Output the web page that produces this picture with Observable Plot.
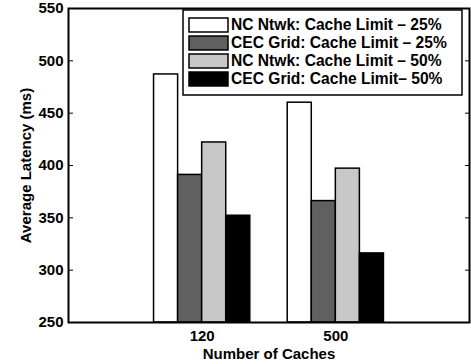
<!DOCTYPE html>
<html><head><meta charset="utf-8">
<script src="https://cdn.jsdelivr.net/npm/d3@7"></script>
<script src="https://cdn.jsdelivr.net/npm/@observablehq/plot@0.6"></script>
<style>
body{margin:0;background:#fff}
#chart svg{font-family:"Liberation Sans",Arial,sans-serif;font-weight:bold}
</style>
</head><body><div id="chart"></div>
<script>
const categories = ["120", "500"];
const series = ["NC Ntwk: Cache Limit – 25%", "CEC Grid: Cache Limit – 25%", "NC Ntwk: Cache Limit – 50%", "CEC Grid: Cache Limit– 50%"];
const colors = ["#ffffff", "#606060", "#c8c8c8", "#000000"];
const ncNtwk25 = [487, 460];
const cecGrid25 = [391, 366];
const ncNtwk50 = [422, 397];
const cecGrid50 = [352, 316];
const yTicks = [250, 300, 350, 400, 450, 500, 550];
const yDomain = [250, 550];

const values = [ncNtwk25, cecGrid25, ncNtwk50, cecGrid50];
const barW = 0.18;
const data = [];
categories.forEach((c, gi) => {
  values.forEach((arr, si) => {
    const x1 = gi + 1 + (si - 2) * barW;
    data.push({cat: c, series: series[si], x1, x2: x1 + barW, value: arr[gi]});
  });
});

const W = 471, H = 364, mL = 68, mR = 2, mT = 8, mB = 42;
const chart = Plot.plot({
  width: W, height: H,
  marginLeft: mL, marginRight: mR, marginTop: mT, marginBottom: mB,
  style: {fontSize: "15px", fontWeight: "bold", fontFamily: "Liberation Sans, Arial, sans-serif", color: "#000"},
  x: {domain: [0, 3]},
  y: {domain: yDomain},
  color: {domain: series, range: colors},
  marks: [
    Plot.rect(data, {x1: "x1", x2: "x2", y1: () => yDomain[0], y2: "value", fill: "series", stroke: "#000", strokeWidth: 1.5}),
    Plot.axisY({ticks: yTicks, anchor: "left", tickSize: 0, tickPadding: 5, label: "Average Latency (ms)", labelAnchor: "center", labelArrow: "none", labelOffset: 48}),
    Plot.axisY({ticks: yTicks, anchor: "left", tickSize: -5, tickFormat: () => "", label: null}),
    Plot.axisY({ticks: yTicks, anchor: "right", tickSize: -5, tickFormat: () => "", label: null}),
    Plot.axisX({ticks: [1, 2], anchor: "bottom", tickSize: 0, tickPadding: 8, tickFormat: d => categories[d - 1], label: "Number of Caches", labelAnchor: "center", labelArrow: "none", labelOffset: 36}),
    Plot.frame({stroke: "#000", strokeWidth: 2})
  ]
});
document.getElementById("chart").appendChild(chart);

// legend
const svg = d3.select(chart);
const lg = svg.append("g").attr("font-size", 15.6).attr("font-weight", "bold").attr("text-anchor", "start");
lg.append("rect").attr("x", 183).attr("y", 10).attr("width", 279).attr("height", 85)
  .attr("fill", "#fff").attr("stroke", "#000").attr("stroke-width", 1.5);
series.forEach((s, i) => {
  const cy = 25 + i * 18;
  lg.append("rect").attr("x", 189).attr("y", cy - 7).attr("width", 39).attr("height", 14)
    .attr("fill", colors[i]).attr("stroke", "#000").attr("stroke-width", 1.5);
  lg.append("text").attr("x", 231).attr("y", cy).attr("dy", "0.35em").attr("fill", "#000").text(s);
});
</script>
</body></html>
